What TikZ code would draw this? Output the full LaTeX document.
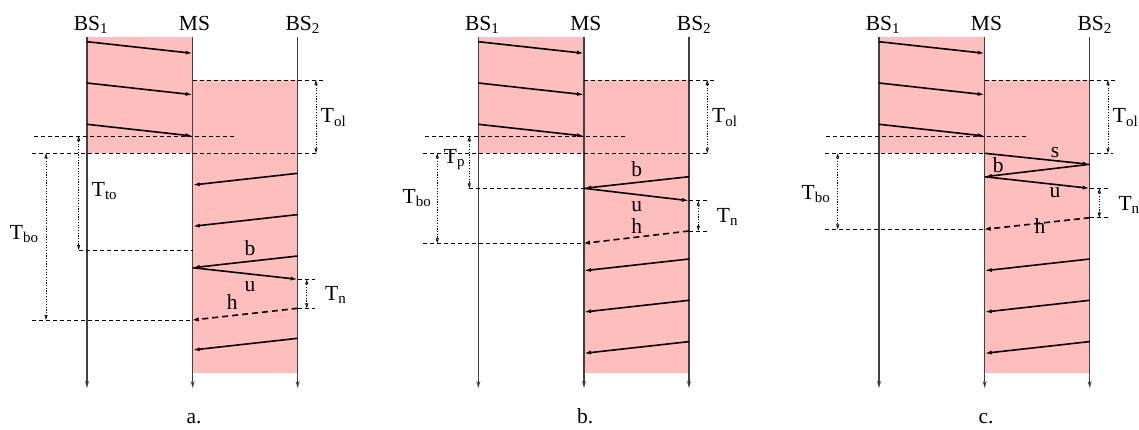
\documentclass[tikz,border=0pt]{standalone}
\usepackage{fontspec}
\setmainfont{Liberation Serif}
\usetikzlibrary{arrows.meta}
\definecolor{pinkfill}{RGB}{255,190,190}
\newcommand\lsub[1]{\raisebox{-3.5pt}{\fontsize{15}{15}\selectfont #1}}
\tikzset{
  lifeline/.style={draw=black!75,line width=1.1pt,-{Stealth[length=7pt,width=4pt]}},
  msg/.style={draw=black,line width=1.6pt,-{Latex[length=7pt,width=4pt]}},
  hmsg/.style={draw=black,line width=1.6pt,dash pattern=on 6pt off 4pt,-{Triangle[open,length=6pt,width=3.5pt]}},
  guide/.style={draw=black,line width=0.8pt,dash pattern=on 4pt off 3pt},
  dim/.style={draw=black,line width=0.8pt,dash pattern=on 1.2pt off 1.5pt,{Triangle[open,length=5pt,width=3pt]}-{Triangle[open,length=5pt,width=3pt]}},
  lbl/.style={font=\fontsize{21.5}{24}\selectfont,inner sep=0pt,anchor=base},
  lblw/.style={lbl,anchor=base west},
}
\newcommand\panelbase[3]{%
\begin{scope}[xshift=#2pt]
  \fill[pinkfill] (0,36.7) rectangle (105.7,153.3);
  \fill[pinkfill] (105.7,80) rectangle (210.7,373.3);
  \node[lbl] (#1-n1) at (3.7,30) {BS\lsub{1}};
  \node[lbl] (#1-n2) at (107.5,30) {MS};
  \node[lbl] (#1-n3) at (215.5,30) {BS\lsub{2}};
  \node[lbl] (#1-cap) at (107,423.5) {#3};
  \coordinate (#1-s1t) at (0,36.7);   \coordinate (#1-s1b) at (0,388);
  \coordinate (#1-s2t) at (105.7,36.7); \coordinate (#1-s2b) at (105.7,388);
  \coordinate (#1-s3t) at (210.7,36.7); \coordinate (#1-s3b) at (210.7,388);
  \draw[lifeline] (#1-s1t) -- (#1-s1b);
  \draw[lifeline] (#1-s2t) -- (#1-s2b);
  \draw[lifeline] (#1-s3t) -- (#1-s3b);
  \coordinate (#1-ta1) at (0,41.7);  \coordinate (#1-tb1) at (105.7,53.3);
  \coordinate (#1-ta2) at (0,83);    \coordinate (#1-tb2) at (105.7,94.7);
  \coordinate (#1-ta3) at (0,124.3); \coordinate (#1-tb3) at (105.7,136);
  \draw[msg] (#1-ta1) -- (#1-tb1);
  \draw[msg] (#1-ta2) -- (#1-tb2);
  \draw[msg] (#1-ta3) -- (#1-tb3);
  \coordinate (#1-g136a) at (-53,136); \coordinate (#1-g136b) at (147,136);
  \draw[guide] (#1-g136a) -- (#1-g136b);
  \coordinate (#1-g80a) at (105.7,80); \coordinate (#1-g80b) at (236,80);
  \draw[guide] (#1-g80a) -- (#1-g80b);
  \coordinate (#1-olt) at (229,80); \coordinate (#1-olb) at (229,153.3);
  \draw[dim] (#1-olt) -- (#1-olb);
  \node[lblw] (#1-tol) at (233.7,122.7) {T\lsub{ol}};
\end{scope}}
\begin{document}
\begin{tikzpicture}[x=1pt,y=-1pt]
\useasboundingbox (0,0) rectangle (1139,429);
\panelbase{a}{87}{a.}
\panelbase{b}{478.3}{b.}
\panelbase{c}{879}{c.}
% ---------- panel a
\begin{scope}[xshift=87pt]
  \coordinate (a-g153a) at (-55,153.3); \coordinate (a-g153b) at (230,153.3);
  \draw[guide] (a-g153a) -- (a-g153b);
  \coordinate (a-r1) at (210.7,173.3); \coordinate (a-l1) at (105.7,185);
  \coordinate (a-r2) at (210.7,214.6); \coordinate (a-l2) at (105.7,226.3);
  \coordinate (a-rb) at (210.7,256);   \coordinate (a-lb) at (105.7,267.7);
  \coordinate (a-ru) at (210.7,279.3);
  \coordinate (a-rh) at (210.7,308.3); \coordinate (a-lh) at (105.7,320);
  \coordinate (a-r3) at (210.7,338.3); \coordinate (a-l3) at (105.7,350);
  \draw[msg] (a-r1) -- (a-l1);
  \draw[msg] (a-r2) -- (a-l2);
  \draw[msg] (a-rb) -- (a-lb);
  \draw[msg] (a-lb) -- (a-ru);
  \draw[hmsg] (a-rh) -- (a-lh);
  \draw[msg] (a-r3) -- (a-l3);
  \coordinate (a-g250a) at (-8.3,250); \coordinate (a-g250b) at (105.7,250);
  \draw[guide] (a-g250a) -- (a-g250b);
  \coordinate (a-g320a) at (-55,320);
  \draw[guide] (a-g320a) -- (a-lh);
  \coordinate (a-gu) at (228,279.3); \coordinate (a-gh) at (228,308.3);
  \draw[guide] (a-ru) -- (a-gu);
  \draw[guide] (a-rh) -- (a-gh);
  \coordinate (a-tot) at (-8.3,136); \coordinate (a-tob) at (-8.3,250);
  \draw[dim] (a-tot) -- (a-tob);
  \coordinate (a-bot) at (-41,153.3); \coordinate (a-bob) at (-41,320);
  \draw[dim] (a-bot) -- (a-bob);
  \coordinate (a-nt) at (219.7,279.3); \coordinate (a-nb) at (219.7,308.3);
  \draw[dim] (a-nt) -- (a-nb);
  \node[lblw] (a-tto) at (4.7,196) {T\lsub{to}};
  \node[lbl] (a-tbo) at (-63,239.3) {T\lsub{bo}};
  \node[lblw] (a-tn) at (238,300) {T\lsub{n}};
  \node[lbl] (a-b) at (163,255) {b};
  \node[lbl] (a-u) at (163,291) {u};
  \node[lbl] (a-h) at (145.3,309.3) {h};
\end{scope}
% ---------- panel b
\begin{scope}[xshift=478.3pt]
  \coordinate (b-g153a) at (-55,153.3); \coordinate (b-g153b) at (232,153.3);
  \draw[guide] (b-g153a) -- (b-g153b);
  \coordinate (b-rb) at (210.7,176.7); \coordinate (b-lb) at (105.7,188.3);
  \coordinate (b-ru) at (210.7,200.7);
  \coordinate (b-rh) at (210.7,231);   \coordinate (b-lh) at (105.7,243.3);
  \coordinate (b-r1) at (210.7,259);   \coordinate (b-l1) at (105.7,270.7);
  \coordinate (b-r2) at (210.7,300.3); \coordinate (b-l2) at (105.7,312);
  \coordinate (b-r3) at (210.7,341.6); \coordinate (b-l3) at (105.7,353.3);
  \draw[msg] (b-rb) -- (b-lb);
  \draw[msg] (b-lb) -- (b-ru);
  \draw[hmsg] (b-rh) -- (b-lh);
  \draw[msg] (b-r1) -- (b-l1);
  \draw[msg] (b-r2) -- (b-l2);
  \draw[msg] (b-r3) -- (b-l3);
  \coordinate (b-g188a) at (-9,188.3);
  \draw[guide] (b-g188a) -- (b-lb);
  \coordinate (b-g243a) at (-55,243.3);
  \draw[guide] (b-g243a) -- (b-lh);
  \coordinate (b-gu) at (229.7,200.7); \coordinate (b-gh) at (229.7,231);
  \draw[guide] (b-ru) -- (b-gu);
  \draw[guide] (b-rh) -- (b-gh);
  \coordinate (b-pt) at (-9,136); \coordinate (b-pb) at (-9,188.3);
  \draw[dim] (b-pt) -- (b-pb);
  \coordinate (b-bot) at (-41,153.3); \coordinate (b-bob) at (-41,243.3);
  \draw[dim] (b-bot) -- (b-bob);
  \coordinate (b-nt) at (220,200.7); \coordinate (b-nb) at (220,231);
  \draw[dim] (b-nt) -- (b-nb);
  \node[lbl] (b-tp) at (-24,163.3) {T\lsub{p}};
  \node[lbl] (b-tbo) at (-61.6,203.3) {T\lsub{bo}};
  \node[lblw] (b-tn) at (238.4,222.3) {T\lsub{n}};
  \node[lbl] (b-b) at (158.4,176.7) {b};
  \node[lbl] (b-u) at (158.4,211.7) {u};
  \node[lbl] (b-h) at (158.4,233.3) {h};
\end{scope}
% ---------- panel c
\begin{scope}[xshift=879pt]
  \coordinate (c-ms) at (105.7,153.3);
  \coordinate (c-g153a) at (-54,153.3);
  \draw[guide] (c-g153a) -- (c-ms);
  \coordinate (c-g153c) at (210.7,153.3); \coordinate (c-g153d) at (234,153.3);
  \draw[guide] (c-g153c) -- (c-g153d);
  \coordinate (c-rs) at (210.7,164.3);
  \coordinate (c-lb) at (105.7,176.7);
  \coordinate (c-ru) at (210.7,188.3);
  \coordinate (c-rh) at (210.7,217.7); \coordinate (c-lh) at (105.7,229.3);
  \coordinate (c-r1) at (210.7,259);   \coordinate (c-l1) at (105.7,270.7);
  \coordinate (c-r2) at (210.7,300.3); \coordinate (c-l2) at (105.7,312);
  \coordinate (c-r3) at (210.7,341.6); \coordinate (c-l3) at (105.7,353.3);
  \draw[msg] (c-ms) -- (c-rs);
  \draw[msg] (c-rs) -- (c-lb);
  \draw[msg] (c-lb) -- (c-ru);
  \draw[hmsg] (c-rh) -- (c-lh);
  \draw[msg] (c-r1) -- (c-l1);
  \draw[msg] (c-r2) -- (c-l2);
  \draw[msg] (c-r3) -- (c-l3);
  \coordinate (c-g229a) at (-54,229.3);
  \draw[guide] (c-g229a) -- (c-lh);
  \coordinate (c-gu) at (229,188.3); \coordinate (c-gh) at (229,217.7);
  \draw[guide] (c-ru) -- (c-gu);
  \draw[guide] (c-rh) -- (c-gh);
  \coordinate (c-bot) at (-41.3,153.3); \coordinate (c-bob) at (-41.3,229.3);
  \draw[dim] (c-bot) -- (c-bob);
  \coordinate (c-nt) at (220.3,188.3); \coordinate (c-nb) at (220.3,217.7);
  \draw[dim] (c-nt) -- (c-nb);
  \node[lbl] (c-tbo) at (-63.2,199.3) {T\lsub{bo}};
  \node[lblw] (c-tn) at (239.3,210) {T\lsub{n}};
  \node[lbl] (c-s) at (176,157.3) {s};
  \node[lbl] (c-b) at (119.3,172.3) {b};
  \node[lbl] (c-u) at (176,197.3) {u};
  \node[lbl] (c-h) at (161,233.3) {h};
\end{scope}
\end{tikzpicture}
\end{document}
